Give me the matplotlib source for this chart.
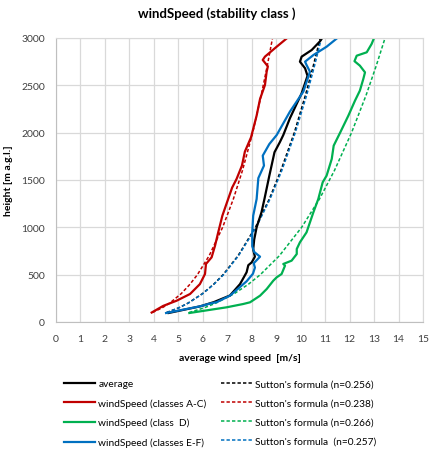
import numpy as np
import matplotlib
matplotlib.use("Agg")
from matplotlib import pyplot as plt

matplotlib.rcParams['font.family'] = ['Lato', 'DejaVu Sans']

# measured profiles: (wind speed [m/s], height [m])
avg_u = [4.6, 5.9, 6.45, 7.11, 7.52, 7.79, 7.86, 8.0, 8.13, 8.06, 8.1, 8.2, 8.4, 8.52, 8.72,
         8.93, 9.15, 9.29, 9.56, 10.04, 10.28, 10.18, 9.97, 10.04, 10.45, 10.79, 10.88]
avg_h = [95, 166, 210, 280, 400, 525, 600, 630, 690, 765, 870, 1000, 1160, 1300, 1546,
         1793, 1900, 1975, 2152, 2416, 2600, 2680, 2750, 2803, 2873, 2965, 3000]

ac_u = [3.91, 4.38, 4.93, 5.48, 5.88, 6.09, 6.13, 6.36, 6.5, 6.63, 6.8, 6.97, 7.2, 7.38, 7.6,
        7.72, 7.97, 8.2, 8.34, 8.54, 8.61, 8.66, 8.45, 8.54, 9.02, 9.45]
ac_h = [100, 170, 225, 296, 400, 507, 613, 683, 806, 947, 1123, 1250, 1420, 1511, 1652,
        1800, 1950, 2180, 2356, 2503, 2644, 2700, 2768, 2803, 2908, 3000]

d_u = [5.45, 6.97, 7.65, 7.93, 8.34, 8.61, 8.88, 9.02, 9.22, 9.36, 9.29, 9.63, 9.84, 9.84, 9.97,
       10.24, 10.52, 10.72, 10.9, 11.06, 11.27, 11.35, 11.62, 11.95, 12.22, 12.42, 12.56, 12.63,
       12.42, 12.2, 12.29, 12.7, 12.9, 13.0]
d_h = [95, 155, 190, 208, 278, 348, 436, 472, 507, 595, 613, 648, 718, 771, 842,
       947, 1159, 1299, 1476, 1546, 1722, 1863, 2004, 2180, 2338, 2444, 2567, 2637,
       2708, 2755, 2813, 2849, 2937, 3000]

ef_u = [4.5, 5.88, 6.3, 6.57, 7.11, 7.79, 8.05, 8.13, 8.08, 8.34, 8.1, 8.02, 8.02, 8.06, 8.2,
        8.27, 8.5, 8.45, 8.72, 9.02, 9.56, 10.11, 10.38, 10.24, 10.18, 10.52, 11.06, 11.5]
ef_h = [95, 165, 195, 210, 278, 430, 510, 575, 620, 690, 740, 800, 947, 1123, 1299,
        1520, 1652, 1757, 1880, 1975, 2222, 2434, 2644, 2715, 2750, 2820, 2908, 3000]

# Sutton's formula curves
sut_h = [100, 150, 200, 300, 400, 500, 700, 1000, 1300, 1600, 2000, 2400, 2700, 3000]
sut_avg = [4.52, 5.02, 5.40, 5.99, 6.45, 6.83, 7.44, 8.15, 8.72, 9.19, 9.74, 10.2, 10.51, 10.8]
sut_ac = [3.94, 4.34, 4.65, 5.12, 5.48, 5.78, 6.26, 6.81, 7.25, 7.62, 8.04, 8.39, 8.63, 8.85]
sut_d = [5.44, 6.06, 6.54, 7.29, 7.87, 8.35, 9.13, 10.04, 10.77, 11.38, 12.08, 12.68, 13.08, 13.45]
sut_ef = [4.53, 5.02, 5.41, 6.00, 6.46, 6.85, 7.46, 8.18, 8.75, 9.23, 9.78, 10.25, 10.56, 10.85]

labels_solid = ['average', 'windSpeed (classes A-C)', 'windSpeed (class  D)', 'windSpeed (classes E-F)']
labels_dash = ["Sutton's formula (n=0.256)", "Sutton's formula (n=0.238)",
               "Sutton's formula (n=0.266)", "Sutton's formula  (n=0.257)"]
colors = ['#000000', '#c00000', '#00b050', '#0070c0']

fig = plt.figure(figsize=(4.3, 4.52), dpi=100)
ax = fig.add_axes([56/430, 1-323/452, (423-56)/430, (323-39)/452])

dash = (0, (2.2, 1.4))
dashed = []
for u, c, lab in zip([sut_avg, sut_ac, sut_d, sut_ef], colors, labels_dash):
    l, = ax.plot(u, sut_h, color=c, lw=1.1, linestyle=dash, label=lab)
    dashed.append(l)

solid = []
for u, h, c, lab in zip([avg_u, ac_u, d_u, ef_u], [avg_h, ac_h, d_h, ef_h], colors, labels_solid):
    l, = ax.plot(u, h, color=c, lw=1.6, label=lab)
    solid.append(l)

ax.set_xlim(0, 15)
ax.set_ylim(0, 3000)
ax.set_xticks(range(0, 16))
ax.set_yticks(range(0, 3001, 500))
ax.grid(True, color='#d9d9d9', lw=0.9)
ax.set_axisbelow(True)
for s in ax.spines.values():
    s.set_color('#d9d9d9')
ax.spines['bottom'].set_color('#bfbfbf')
ax.spines['left'].set_color('#bfbfbf')
ax.tick_params(length=0, labelsize=7.5, colors='#404040')
ax.tick_params(axis='x', pad=9)
ax.tick_params(axis='y', pad=8)

ax.set_xlabel('average wind speed  [m/s]', fontsize=7.5, fontweight='bold', labelpad=7)
ax.set_ylabel('height [m a.g.l.]', fontsize=7.5, fontweight='bold', labelpad=6)
fig.text(0.505, 1-14/452, 'windSpeed (stability class )', ha='center', va='center',
         fontsize=9.5, fontweight='bold')

# legend below the plot, two separate columns
top = 1 - 380/452
kw = dict(loc='upper left', frameon=False, fontsize=7.3, handlelength=3.1,
          handletextpad=0.3, labelspacing=1.0, borderpad=0, borderaxespad=0)
fig.legend(handles=solid, bbox_to_anchor=(64/430, top), **kw)
fig.legend(handles=dashed, bbox_to_anchor=(221/430, top), **kw)

plt.savefig('out.png', dpi=100)
